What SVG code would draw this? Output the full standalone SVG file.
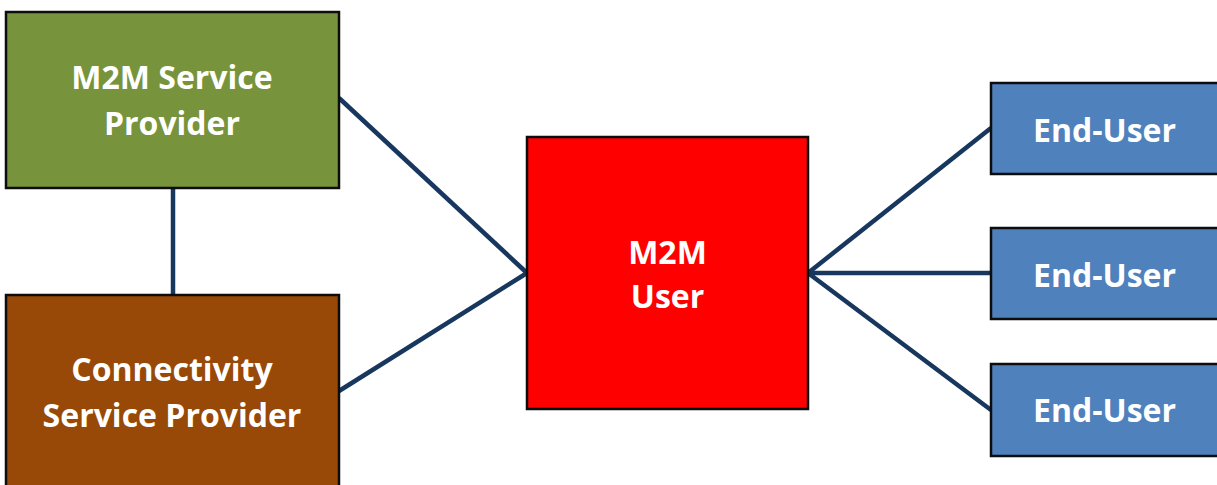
<svg xmlns="http://www.w3.org/2000/svg" width="1217" height="485" viewBox="0 0 1217 485">
<style>
.box{stroke:#0d0d0d;stroke-width:2.5}
.lbl{font-family:"Open Sans","Liberation Sans",sans-serif;font-weight:bold;font-size:32px;fill:#ffffff;text-anchor:middle}
.conn{stroke:#17375E;stroke-width:4.5;fill:none}
</style>
<rect width="1217" height="485" fill="#ffffff"/>
<g id="connectors">
<line class="conn" x1="173" y1="188" x2="173" y2="295"/>
<line class="conn" x1="339" y1="98" x2="527" y2="273"/>
<line class="conn" x1="339" y1="391" x2="527" y2="273"/>
<line class="conn" x1="808" y1="273" x2="991" y2="128"/>
<line class="conn" x1="808" y1="273" x2="991" y2="273"/>
<line class="conn" x1="808" y1="273" x2="991" y2="410"/>
</g>
<g id="m2m-service-provider">
<rect class="box" x="6" y="12" width="333" height="176" fill="#77933C"/>
<text class="lbl" x="172" y="89">M2M Service</text>
<text class="lbl" x="172" y="135">Provider</text>
</g>
<g id="connectivity-service-provider">
<rect class="box" x="6" y="295" width="333" height="200" fill="#984807"/>
<text class="lbl" x="172" y="381">Connectivity</text>
<text class="lbl" x="172" y="427">Service Provider</text>
</g>
<g id="m2m-user">
<rect class="box" x="527" y="137" width="281" height="272" fill="#FF0000"/>
<text class="lbl" x="667.5" y="264">M2M</text>
<text class="lbl" x="667.5" y="308">User</text>
</g>
<g id="end-user-1">
<rect class="box" x="991" y="83" width="240" height="91" fill="#4F81BD"/>
<text class="lbl" x="1104.5" y="142">End-User</text>
</g>
<g id="end-user-2">
<rect class="box" x="991" y="228" width="240" height="91" fill="#4F81BD"/>
<text class="lbl" x="1104.5" y="287">End-User</text>
</g>
<g id="end-user-3">
<rect class="box" x="991" y="364" width="240" height="92" fill="#4F81BD"/>
<text class="lbl" x="1104.5" y="422">End-User</text>
</g>
</svg>
